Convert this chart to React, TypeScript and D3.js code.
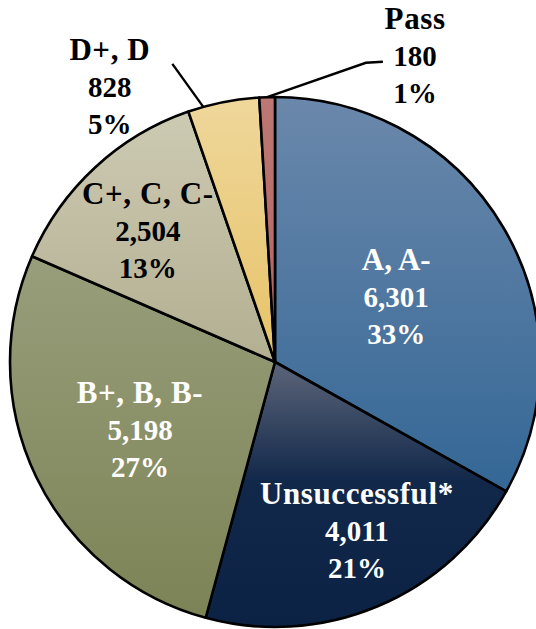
import React from "react";
import * as d3 from "d3";

const categories = ["A, A-", "Unsuccessful*", "B+, B, B-", "C+, C, C-", "D+, D", "Pass"];
const counts = [6301, 4011, 5198, 2504, 828, 180];
const percentLabels = ["33%", "21%", "27%", "13%", "5%", "1%"];

const W = 536;
const H = 629;
const CX = 275;
const CY = 362;
const R = 265;

const gradStops: [string, string][][] = [
  [["0", "#6b88ab"], ["1", "#346796"]],
  [["0", "#5c6579"], ["0.45", "#12284a"], ["1", "#0c2244"]],
  [["0", "#989e7b"], ["1", "#7c8355"]],
  [["0", "#cdcab3"], ["1", "#b3af91"]],
  [["0", "#efd79b"], ["1", "#e7c368"]],
  [["0", "#bc7874"], ["1", "#b5625e"]],
];
const textColors = ["#ffffff", "#ffffff", "#ffffff", "#000000", "#000000", "#000000"];
// label placement: angle (deg, clockwise from top) and radius factor
const labelAngle: (number | null)[] = [null, null, null, null, 329, 24.6];
const labelRadius = [0.52, 0.71, 0.57, 0.69, 1.21, 1.27];

const polar = (deg: number, r: number): [number, number] => {
  const a = (deg * Math.PI) / 180;
  return [CX + r * Math.sin(a), CY - r * Math.cos(a)];
};

const FONT = '"Liberation Serif", "Times New Roman", Times, serif';

export default function App() {
  const pie = d3.pie<number>().sort(null).value((d) => d)(counts);
  const arc = d3.arc<d3.PieArcDatum<number>>().innerRadius(0).outerRadius(R);
  const fmt = d3.format(",");
  const lineGap = 37;

  return (
    <svg
      width={W}
      height={H}
      style={{ position: "fixed", left: 0, top: 0, background: "#fff" }}
    >
      <defs>
        {gradStops.map((stops, i) => (
          <linearGradient key={i} id={`g${i}`} x1="0" y1="0" x2="0" y2="1">
            {stops.map(([o, c], j) => (
              <stop key={j} offset={o} stopColor={c} />
            ))}
          </linearGradient>
        ))}
      </defs>
      <g transform={`translate(${CX},${CY})`}>
        {pie.map((p, i) => (
          <path key={i} d={arc(p) || ""} fill={`url(#g${i})`} stroke="#000" strokeWidth={2.6} strokeLinejoin="round" />
        ))}
      </g>
      {(() => {
        const dStart = polar(344.3, R);
        const dEnd = polar(341, 1.19 * R);
        const pMid = (pie[5].startAngle + pie[5].endAngle) / 2;
        const pStart = polar((pMid * 180) / Math.PI, R);
        const pBend = polar(16.9, 1.18 * R);
        return (
          <g fill="none" stroke="#000" strokeWidth={2.4}>
            <path d={`M${dStart[0]},${dStart[1]}L${dEnd[0]},${dEnd[1]}`} />
            <path d={`M${pStart[0]},${pStart[1]}L${pBend[0]},${pBend[1]}L${pBend[0] + 17},${pBend[1] - 1}`} />
          </g>
        );
      })()}
      {pie.map((p, i) => {
        const midDeg = (((p.startAngle + p.endAngle) / 2) * 180) / Math.PI;
        const ang = labelAngle[i] ?? midDeg + (i === 0 ? 2 : i === 1 ? -3 : i === 2 ? -1 : -1.3);
        const [x, y] = polar(ang, labelRadius[i] * R);
        const lines = [categories[i], fmt(counts[i]), percentLabels[i]];
        return (
          <text
            key={i}
            x={x}
            y={y + 10}
            textAnchor="middle"
            fill={textColors[i]}
            style={{ fontFamily: FONT, fontWeight: 700 }}
          >
            {lines.map((t, j) => (
              <tspan
                key={j}
                x={x}
                y={y + 10 + (j - 1) * lineGap}
                style={{ fontSize: j === 0 ? "31px" : "29px", letterSpacing: j === 0 && i !== 0 ? "0.6px" : "0px" }}
              >
                {t}
              </tspan>
            ))}
          </text>
        );
      })}
    </svg>
  );
}
